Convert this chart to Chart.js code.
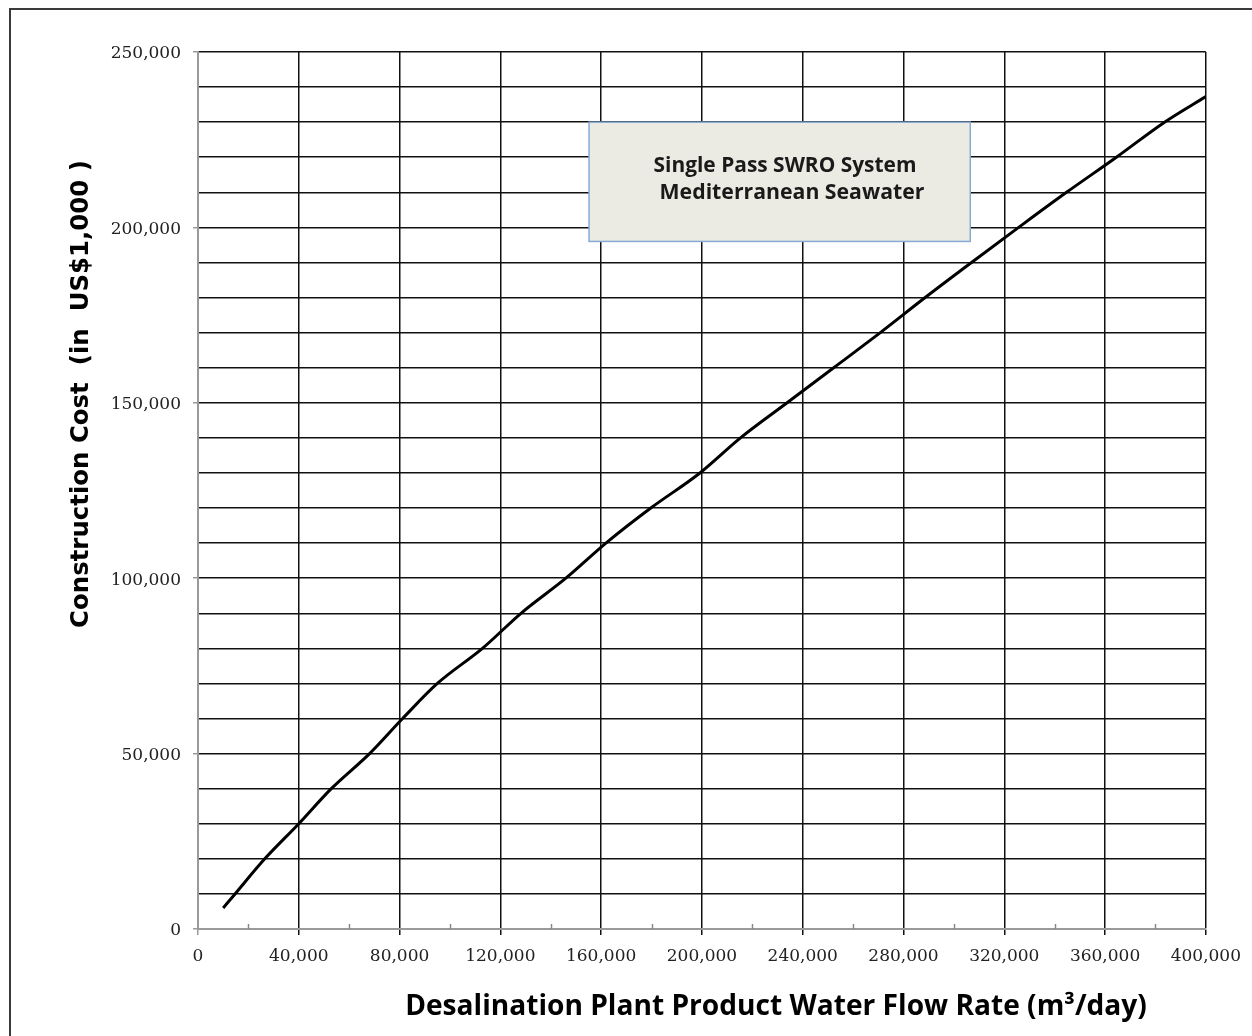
<!DOCTYPE html>
<html>
<head>
<meta charset="utf-8">
<script src="https://cdn.jsdelivr.net/npm/chart.js@4.4.1/dist/chart.umd.min.js"></script>
<style>
  html, body { margin: 0; padding: 0; background: #fff; overflow: hidden; }
  #wrap { position: relative; width: 1252px; height: 1036px; }
  #frame { position: absolute; left: 9px; top: 8px; width: 1300px; height: 1100px;
           border: 2px solid #3a3a3a; box-sizing: border-box; pointer-events: none; }
</style>
</head>
<body>
<div id="wrap">
  <canvas id="costChart" width="1252" height="1036"></canvas>
  <div id="frame"></div>
</div>
<script>
// flow rate (m3/day) vs construction cost (US$1,000)
const flowRate = [10000, 14700, 26500, 40000, 52900, 68100, 81200, 95000, 112900, 128200,
                  146000, 161900, 179700, 199200, 215300, 233800, 252300, 270800, 288600,
                  307000, 325700, 344700, 364500, 383600, 400000];
const cost = [6000, 10000, 20000, 30000, 40000, 50000, 60000, 70000, 80000, 90000,
              100000, 110000, 120000, 130000, 140000, 150000, 160000, 170000, 180000,
              190000, 200000, 210000, 220000, 230000, 237300];

const xMax = 400000;
const yMax = 250000;
const xLabelStep = 40000;
const yLabelStep = 50000;

const xTitle = "Desalination Plant Product Water Flow Rate (m\u00b3/day)";
const yTitle = "Construction Cost  (in  US$1,000 )";
const noteLines = ["Single Pass SWRO System", "Mediterranean Seawater"];

// text box corners in data units
const noteBox = { x0: 155200, x1: 306500, y0: 230000, y1: 196000 };

function fmt(v) {
  return v.toLocaleString("en-US");
}

// pick a font size so the text spans the given width
function fitFont(ctx, text, weight, family, width) {
  ctx.font = `${weight} 20px ${family}`;
  const w = ctx.measureText(text).width;
  const size = 20 * width / w;
  ctx.font = `${weight} ${size.toFixed(2)}px ${family}`;
}

const extras = {
  id: "extras",
  afterDraw(chart) {
    const { ctx, scales } = chart;
    const xs = scales.x, ys = scales.y;
    const bottom = chart.chartArea.bottom;
    ctx.save();

    // small inside ticks half way between labels
    ctx.strokeStyle = "#888";
    ctx.lineWidth = 1.5;
    for (let v = xLabelStep / 2; v < xMax; v += xLabelStep) {
      const px = Math.round(xs.getPixelForValue(v)) + 0.5;
      ctx.beginPath();
      ctx.moveTo(px, bottom);
      ctx.lineTo(px, bottom - 5);
      ctx.stroke();
    }

    // note box
    const bx0 = xs.getPixelForValue(noteBox.x0);
    const bx1 = xs.getPixelForValue(noteBox.x1);
    const by0 = ys.getPixelForValue(noteBox.y0);
    const by1 = ys.getPixelForValue(noteBox.y1);
    ctx.fillStyle = "#ecebe3";
    ctx.fillRect(bx0, by0, bx1 - bx0, by1 - by0);
    ctx.strokeStyle = "#86a9d6";
    ctx.lineWidth = 1.5;
    ctx.strokeRect(bx0, by0, bx1 - bx0, by1 - by0);

    ctx.fillStyle = "#1a1a1a";
    ctx.textAlign = "center";
    ctx.textBaseline = "middle";
    fitFont(ctx, noteLines[0], "bold", "'Open Sans', sans-serif", 263);
    ctx.fillText(noteLines[0], 785, 166);
    fitFont(ctx, noteLines[1], "bold", "'Open Sans', sans-serif", 265);
    ctx.fillText(noteLines[1], 792, 193);

    // axis titles
    ctx.fillStyle = "#000";
    fitFont(ctx, xTitle, "bold", "'Open Sans', sans-serif", 742);
    ctx.fillText(xTitle, 776, 1007);

    ctx.translate(82, 394);
    ctx.rotate(-Math.PI / 2);
    fitFont(ctx, yTitle, "bold", "'DejaVu Sans', sans-serif", 468);
    ctx.fillText(yTitle, 0, 0);
    ctx.restore();
  }
};

const tickFont = { family: "'DejaVu Serif', serif", size: 17 };

new Chart(document.getElementById("costChart"), {
  type: "line",
  data: {
    datasets: [{
      data: flowRate.map((x, i) => ({ x, y: cost[i] })),
      borderColor: "#000",
      borderWidth: 3,
      pointRadius: 0,
      fill: false,
      cubicInterpolationMode: "monotone"
    }]
  },
  options: {
    responsive: false,
    animation: false,
    layout: { padding: { left: 10, top: 52, right: 44, bottom: 0 } },
    plugins: { legend: { display: false }, tooltip: { enabled: false } },
    scales: {
      x: {
        type: "linear",
        min: 0,
        max: xMax,
        afterFit(scale) { scale.height = 107; },
        afterBuildTicks(scale) {
          scale.ticks = [];
          for (let v = 0; v <= xMax; v += xLabelStep) scale.ticks.push({ value: v });
        },
        ticks: {
          autoSkip: false,
          maxRotation: 0,
          padding: 11,
          color: "#222",
          font: tickFont,
          callback: v => fmt(v)
        },
        grid: {
          color: c => (c.tick && c.tick.value === 0 ? "rgba(0,0,0,0)" : "#111"),
          lineWidth: 1.5,
          tickLength: 6,
          tickColor: c => (c.tick && c.tick.value === 0 ? "#999" : "#111")
        },
        border: { color: "#9a9a9a", width: 2 }
      },
      y: {
        min: 0,
        max: yMax,
        afterFit(scale) { scale.width = 188; },
        afterBuildTicks(scale) {
          scale.ticks = [];
          for (let v = 0; v <= yMax; v += 10000) scale.ticks.push({ value: v });
        },
        ticks: {
          autoSkip: false,
          padding: 12,
          labelOffset: 2,
          color: "#222",
          font: tickFont,
          callback: v => (v % yLabelStep === 0 ? fmt(v) : "")
        },
        grid: {
          color: c => (c.tick && c.tick.value === 0 ? "rgba(0,0,0,0)" : "#111"),
          lineWidth: 1.5,
          tickLength: 5,
          tickColor: c => (c.tick && c.tick.value % yLabelStep === 0 ? "#999" : "rgba(0,0,0,0)")
        },
        border: { color: "#9a9a9a", width: 2 }
      }
    }
  },
  plugins: [extras]
});
</script>
</body>
</html>
